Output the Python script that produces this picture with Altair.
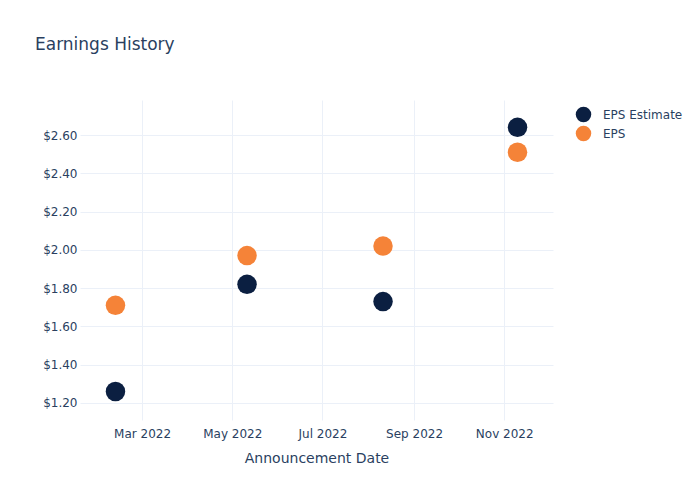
import altair as alt
import pandas as pd

dates = ["2022-02-11", "2022-05-11", "2022-08-11", "2022-11-10"]
eps_estimate = [1.26, 1.82, 1.73, 2.64]
eps_actual = [1.71, 1.97, 2.02, 2.51]
series_names = ["EPS Estimate", "EPS"]
series_colors = ["#0b1f41", "#f58338"]
y_ticks = [1.2, 1.4, 1.6, 1.8, 2.0, 2.2, 2.4, 2.6]
x_ticks = ["2022-03-01", "2022-05-01", "2022-07-01", "2022-09-01", "2022-11-01"]

rows = []
for d, v in zip(dates, eps_estimate):
    rows.append({"date": d, "value": v, "series": "EPS Estimate"})
for d, v in zip(dates, eps_actual):
    rows.append({"date": d, "value": v, "series": "EPS"})
df = pd.DataFrame(rows)

FONT = "DejaVu Sans"
TXT = "#2a3f5f"
GRID = "#ebf0f8"

x_tick_vals = [alt.DateTime(year=int(t[:4]), month=int(t[5:7]), date=int(t[8:])) for t in x_ticks]

chart = alt.Chart(df).mark_circle(size=380, opacity=1).encode(
    x=alt.X("date:T", title="Announcement Date",
            scale=alt.Scale(domain=[alt.DateTime(year=2022, month=1, date=18),
                                    alt.DateTime(year=2022, month=12, date=4)]),
            axis=alt.Axis(values=x_tick_vals, format="%b %Y", grid=True, gridColor=GRID,
                          domain=False, ticks=False, labelPadding=8, labelFontSize=12,
                          labelColor=TXT, titleColor=TXT, titleFontSize=14,
                          titleFontWeight="normal", titlePadding=12, labelFont=FONT, titleFont=FONT)),
    y=alt.Y("value:Q", title=None,
            scale=alt.Scale(domain=[1.111, 2.783], nice=False, zero=False),
            axis=alt.Axis(values=y_ticks, format="$.2f", grid=True, gridColor=GRID,
                          domain=False, ticks=False, labelPadding=3, labelFontSize=12,
                          labelColor=TXT, labelFont=FONT)),
    color=alt.Color("series:N", title=None,
                    scale=alt.Scale(domain=series_names, range=series_colors),
                    sort=series_names,
                    legend=alt.Legend(orient="none", legendX=495, legendY=6,
                                      labelFont=FONT, labelFontSize=12, labelColor=TXT,
                                      symbolSize=240, symbolType="circle", symbolOpacity=1,
                                      rowPadding=2, labelOffset=11)),
    order=alt.Order("series:N", sort="descending"),
).properties(
    width=473, height=320,
    title=alt.TitleParams("Earnings History", anchor="start", frame="group", dx=-45, offset=46,
                          fontSize=17, font=FONT, fontWeight="normal", color=TXT),
    autosize=alt.AutoSizeParams(type="none"),
    padding={"left": 80, "top": 100, "right": 147, "bottom": 80},
).configure_view(stroke=None)

chart.save("out.html", embed_options={"renderer": "svg", "actions": False})
